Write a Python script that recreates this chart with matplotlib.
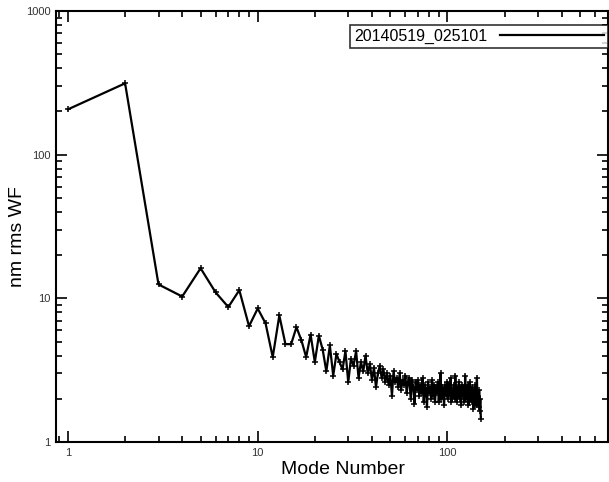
import numpy as np
import matplotlib
matplotlib.use('Agg')
import matplotlib.pyplot as plt
from matplotlib.ticker import LogLocator, NullFormatter, FixedFormatter, FixedLocator

plt.rcParams['font.family'] = ['Liberation Sans', 'DejaVu Sans']

series_label = '20140519_025101'
# rms wavefront per mode (nm), modes 1..150
rms_nm = [
    207, 314, 12.5, 10.3, 16.2, 11.0, 8.7, 11.4, 6.4, 8.5,
    6.7, 3.9, 7.6, 4.8, 4.8, 6.3, 5.1, 3.9, 5.6, 3.6,
    5.5, 4.4, 3.1, 4.7, 2.9, 4.1, 3.6, 3.2, 4.3, 2.6,
    3.8, 3.4, 4.3, 2.8, 3.6, 3.1, 4.0, 3.0, 3.5, 2.7,
    3.3, 2.4, 3.0, 3.4, 2.8, 3.2, 2.6, 3.0, 2.5, 2.9,
    2.1, 3.1, 2.6, 2.8, 2.4, 3.0, 2.3, 2.7, 2.5, 2.9,
    2.2, 2.6, 2.8, 2.0, 2.7, 2.4, 1.85, 2.6, 2.3, 2.7,
    2.1, 2.5, 2.2, 2.8, 1.9, 2.5, 2.3, 1.75, 2.6, 2.2,
    2.4, 2.0, 2.7, 2.1, 2.5, 1.9, 2.4, 2.2, 2.6, 1.9,
    2.3, 3.0, 2.0, 2.4, 2.2, 1.8, 2.5, 2.3, 2.1, 2.6,
    2.0, 2.4, 2.2, 2.8, 1.9, 2.3, 2.1, 2.5, 2.0, 2.9,
    2.2, 1.9, 2.4, 2.1, 2.6, 2.0, 2.3, 1.8, 2.5, 2.1,
    2.4, 2.2, 1.9, 2.9, 2.1, 2.3, 2.0, 2.5, 1.8, 2.2,
    2.6, 2.0, 2.3, 1.9, 2.4, 2.1, 1.7, 2.3, 2.0, 2.5,
    1.8, 2.2, 2.8, 1.9, 2.1, 1.75, 2.3, 1.65, 2.0, 1.45,
]
modes = np.arange(1, len(rms_nm) + 1)

fig = plt.figure(figsize=(6.09, 4.82), dpi=100)
ax = fig.add_axes([0.092, 0.083, 0.906, 0.894])

ax.plot(modes, rms_nm, color='black', lw=1.6, marker='+', ms=4, mew=1.1,
        label=series_label)

ax.set_xscale('log')
ax.set_yscale('log')
ax.set_xlim(0.865, 700)
ax.set_ylim(1, 1000)

ax.xaxis.set_major_locator(FixedLocator([1, 10, 100]))
ax.xaxis.set_major_formatter(FixedFormatter(['1', '10', '100']))
ax.yaxis.set_major_locator(FixedLocator([1, 10, 100, 1000]))
ax.yaxis.set_major_formatter(FixedFormatter(['1', '10', '100', '1000']))
ax.xaxis.set_minor_locator(LogLocator(base=10, subs=np.arange(2, 10)))
ax.yaxis.set_minor_locator(LogLocator(base=10, subs=np.arange(2, 10)))
ax.xaxis.set_minor_formatter(NullFormatter())
ax.yaxis.set_minor_formatter(NullFormatter())

ax.tick_params(which='both', direction='in', top=True, right=True,
               colors='black', labelcolor='#333333', labelsize=8, width=1.2)
ax.tick_params(which='major', length=8, pad=4)
ax.tick_params(which='minor', length=4)
for s in ax.spines.values():
    s.set_linewidth(1.5)

ax.set_xlabel('Mode Number', fontsize=14)
ax.xaxis.set_label_coords(0.52, -0.045, transform=ax.transAxes)
ax.xaxis.label.set_va('top')
ax.set_ylabel('nm rms WF', fontsize=14)
ax.yaxis.set_label_coords(-0.055, 0.477)

leg = ax.legend(loc='upper right', bbox_to_anchor=(1.0, 0.968), borderaxespad=0,
                markerfirst=False, handlelength=6.5, handletextpad=0.8,
                fontsize=11.5, frameon=True, fancybox=False, borderpad=0.25)
leg.get_frame().set_edgecolor('black')
leg.get_frame().set_linewidth(1.2)
for h in leg.legend_handles:
    h.set_marker('')

fig.savefig('out.png', dpi=100)
